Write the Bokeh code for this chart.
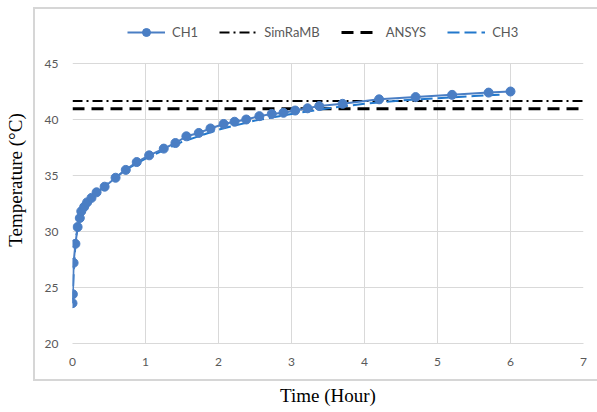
from bokeh.plotting import figure
from bokeh.models import (Range1d, FixedTicker, Legend, LegendItem,
                          ColumnDataSource)
from bokeh.embed import file_html
from bokeh.resources import INLINE

# ---- data ----
ch1_time = [0.0, 0.005, 0.015, 0.04, 0.07, 0.10, 0.12, 0.16, 0.20, 0.26, 0.33,
            0.44, 0.59, 0.73, 0.88, 1.05, 1.25, 1.41, 1.56, 1.73, 1.89, 2.07,
            2.22, 2.38, 2.56, 2.73, 2.89, 3.05, 3.22, 3.38, 3.70, 4.20, 4.70,
            5.20, 5.70, 6.00]
ch1_temp = [23.6, 24.4, 27.2, 28.9, 30.4, 31.2, 31.8, 32.2, 32.6, 33.0, 33.5,
            34.0, 34.8, 35.5, 36.2, 36.8, 37.4, 37.9, 38.5, 38.8, 39.2, 39.6,
            39.8, 40.0, 40.3, 40.5, 40.6, 40.8, 41.0, 41.2, 41.4, 41.8, 42.0,
            42.2, 42.4, 42.5]
ch3_time = [0.0, 0.02, 0.05, 0.10, 0.20, 0.30, 0.50, 0.75, 1.00, 1.50, 2.00,
            2.50, 3.00, 3.50, 4.00, 4.50, 5.00, 5.50, 5.85]
ch3_temp = [23.6, 27.0, 29.6, 31.0, 32.4, 33.2, 34.4, 35.6, 36.5, 38.0, 39.1,
            39.9, 40.5, 41.0, 41.4, 41.7, 41.9, 42.1, 42.2]
simramb_temp = 41.65
ansys_temp = 40.95
x_ticks = [0, 1, 2, 3, 4, 5, 6, 7]
y_ticks = [20, 25, 30, 35, 40, 45]
x_min, x_max = 0, 7
y_min, y_max = 20, 45

GRID = "#d9d9d9"
TXT = "#595959"
C1 = "#4a7ec4"
C3 = "#2278cc"

# plot area: 511 x 280 px for the axis span; extra room on top holds the legend
PX_PER_UNIT = 280 / (y_max - y_min)
TOP_ROOM = 47  # px above the 45 gridline
y_top = y_max + TOP_ROOM / PX_PER_UNIT

# thin light-grey chart-area border drawn as the host element's background
border_bg = (
    "linear-gradient(#d6d6d6,#d6d6d6) 33px 7px / 2px 374px no-repeat, "
    "linear-gradient(#d6d6d6,#d6d6d6) 33px 7px / 600px 2px no-repeat, "
    "linear-gradient(#d6d6d6,#d6d6d6) 33px 379px / 600px 2px no-repeat, "
    "white"
)

p = figure(frame_width=511, frame_height=280 + TOP_ROOM, output_backend="svg",
           toolbar_location=None,
           x_range=Range1d(x_min, x_max), y_range=Range1d(y_min, y_top),
           min_border_left=72, min_border_right=14, min_border_top=16,
           min_border_bottom=69, styles={"background": border_bg})
p.outline_line_color = None
p.background_fill_color = "white"
p.border_fill_alpha = 0

for ax in (p.xaxis[0], p.yaxis[0]):
    ax.major_tick_line_color = None
    ax.minor_tick_line_color = None
    ax.major_tick_out = 0
    ax.major_label_text_font = "Lato"
    ax.major_label_text_font_size = "12px"
    ax.major_label_text_color = TXT
    ax.axis_label_text_font = "Liberation Serif"
    ax.axis_label_text_font_size = "19px"
    ax.axis_label_text_font_style = "normal"
    ax.axis_label_text_color = "black"

p.xaxis.ticker = FixedTicker(ticks=x_ticks)
p.yaxis.ticker = FixedTicker(ticks=y_ticks)
p.yaxis.bounds = (y_min, y_max)
p.xaxis.axis_line_color = GRID
p.yaxis.axis_line_color = None
p.xaxis.major_label_standoff = 14
p.yaxis.major_label_standoff = 14
p.xaxis.axis_label = "Time (Hour)"
p.yaxis.axis_label = "Temperature (°C)"
p.xaxis.axis_label_standoff = 16
p.yaxis.axis_label_standoff = 16

p.xgrid.ticker = FixedTicker(ticks=x_ticks)
p.ygrid.ticker = FixedTicker(ticks=y_ticks)
p.xgrid.cross_bounds = (y_min, y_max)
p.xgrid.grid_line_color = GRID
p.ygrid.grid_line_color = GRID

src1 = ColumnDataSource(dict(x=ch1_time, y=ch1_temp))
src3 = ColumnDataSource(dict(x=ch3_time, y=ch3_temp))

r_sim = p.line([x_min, x_max], [simramb_temp, simramb_temp], line_color="black",
               line_width=2, line_dash="10 4 2 4")
r_ans = p.line([x_min, x_max], [ansys_temp, ansys_temp], line_color="black",
               line_width=3, line_dash="12 7")
r_ch3 = p.line("x", "y", source=src3, line_color=C3, line_width=2,
               line_dash="12 5")
r_ch1l = p.line("x", "y", source=src1, line_color=C1, line_width=2)
r_ch1m = p.scatter("x", "y", source=src1, size=9, fill_color=C1,
                   line_color=C1)

legend = Legend(items=[
    LegendItem(label="CH1", renderers=[r_ch1l, r_ch1m]),
    LegendItem(label="SimRaMB", renderers=[r_sim]),
    LegendItem(label="ANSYS", renderers=[r_ans]),
    LegendItem(label="CH3", renderers=[r_ch3]),
], orientation="horizontal", location=(55, 301), padding=0, margin=0,
    spacing=21, label_standoff=7, glyph_width=38, glyph_height=20,
    label_text_font="Lato", label_text_font_size="13px",
    label_text_color=TXT, background_fill_alpha=0, border_line_color=None)
p.add_layout(legend, "center")

open("out.html", "w").write(file_html(p, INLINE))
